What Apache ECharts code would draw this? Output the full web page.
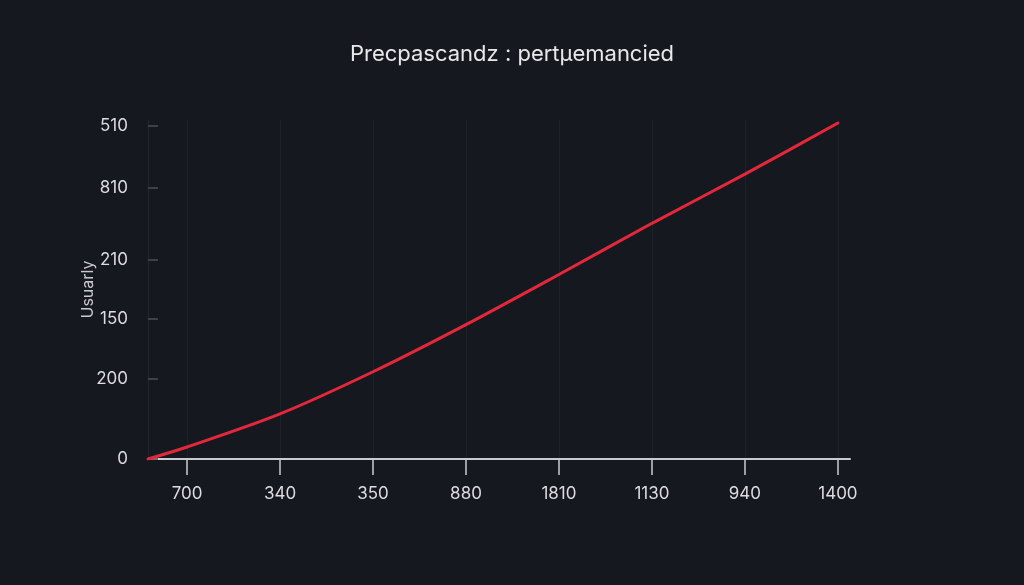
<!DOCTYPE html>
<html>
<head>
<meta charset="utf-8">
<script src="https://cdn.jsdelivr.net/npm/echarts@6/dist/echarts.min.js"></script>
<style>
  html, body { margin: 0; padding: 0; background: #15181f; }
  #chart { width: 1024px; height: 585px; }
</style>
</head>
<body>
<div id="chart"></div>
<script>
// x tick labels (left to right) and y tick labels (bottom to top), as printed
const xLabels = ['700', '340', '350', '880', '1810', '1130', '940', '1400']
const yLabels = ['0', '200', '150', '210', '810', '510']
// where each y label sits on the (unevenly labelled) y scale
const yTickPos = [0, 80, 140, 199, 270, 332]
// the red curve, x in tick-index units
const curveX = [-0.42, 0, 1, 2, 3, 4, 5, 6, 7]
const curveY = [0, 12, 45, 87, 134, 184, 235, 284, 335]

const xTickPos = xLabels.map((_, i) => i)

const chart = echarts.init(document.getElementById('chart'))
chart.setOption({
  backgroundColor: '#15181f',
  animation: false,
  title: {
    text: 'Precpascandz : pertµemancied',
    left: 'center',
    top: 38,
    textStyle: { color: '#e8e8ea', fontSize: 22, fontWeight: 'normal', fontFamily: 'Inter' },
  },
  grid: { left: 148, right: 174, top: 120, bottom: 126 },
  xAxis: {
    type: 'value',
    min: -0.42,
    max: 7.13,
    axisLine: { show: true, lineStyle: { color: '#c9cbcf', width: 2 } },
    axisTick: {
      show: true,
      customValues: xTickPos,
      length: 16,
      lineStyle: { color: '#c9cbcf', width: 1.5 },
    },
    axisLabel: {
      customValues: xTickPos,
      formatter: v => xLabels[Math.round(v)],
      color: '#dcdde0',
      fontSize: 17,
      margin: 26,
      fontFamily: 'Inter',
    },
    splitLine: { show: true, lineStyle: { color: '#1d2129', width: 1 } },
  },
  yAxis: {
    type: 'value',
    min: 0,
    max: 338,
    name: 'Usuarly',
    nameLocation: 'middle',
    nameRotate: 90,
    nameGap: 52,
    nameMoveOverlap: false,
    nameTextStyle: { color: '#c8c9cd', fontSize: 16, fontFamily: 'Inter' },
    axisLine: { show: true, onZero: false, lineStyle: { color: '#22262e', width: 1 } },
    axisTick: {
      show: true,
      inside: true,
      customValues: yTickPos,
      length: 10,
      lineStyle: { color: '#4a4e56', width: 1.5 },
    },
    axisLabel: {
      customValues: yTickPos,
      formatter: v => yLabels[yTickPos.indexOf(v)],
      color: '#dcdde0',
      fontSize: 17,
      margin: 20,
      fontFamily: 'Inter',
    },
    splitLine: { show: false },
  },
  series: [
    {
      type: 'line',
      data: curveX.map((x, i) => [x, curveY[i]]),
      smooth: 0.3,
      showSymbol: false,
      lineStyle: { color: '#e3283b', width: 3, cap: 'round' },
    },
  ],
})
</script>
</body>
</html>
